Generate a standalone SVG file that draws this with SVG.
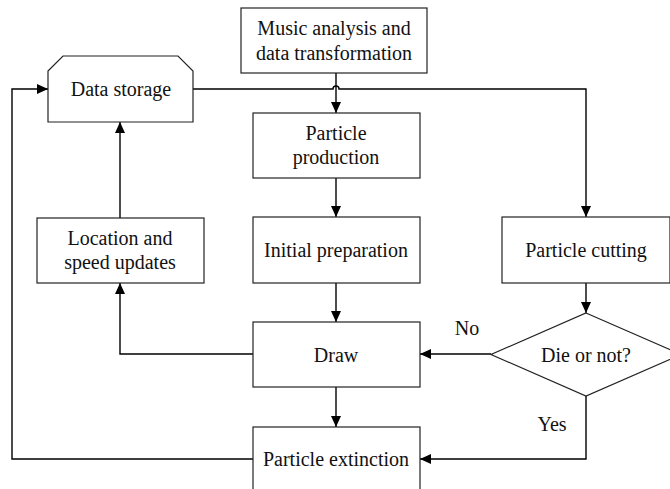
<svg xmlns="http://www.w3.org/2000/svg" width="670" height="489" viewBox="0 0 670 489">
<defs>
<marker id="ah" markerUnits="userSpaceOnUse" markerWidth="12" markerHeight="10" refX="11" refY="5" orient="auto">
<path d="M0,0 L11,5 L0,10 Z" fill="#000"/>
</marker>
<style>
.box{fill:#fff;stroke:#222;stroke-width:1.2}
.t{font-family:"Liberation Serif","Times New Roman",serif;font-size:20px;fill:#111;text-anchor:middle}
.c{fill:none;stroke:#000;stroke-width:1.4}
</style>
</defs>
<rect width="670" height="489" fill="#fff"/>
<g id="connectors">
<path class="c" d="M336,73 V113" marker-end="url(#ah)"/>
<path class="c" d="M193,89 H333 A3,3 0 0 1 339,89 H586 V217" marker-end="url(#ah)"/>
<path class="c" d="M336,178 V217" marker-end="url(#ah)"/>
<path class="c" d="M336,283 V322" marker-end="url(#ah)"/>
<path class="c" d="M336,387 V427" marker-end="url(#ah)"/>
<path class="c" d="M586,283 V313" marker-end="url(#ah)"/>
<path class="c" d="M491,354 H420" marker-end="url(#ah)"/>
<path class="c" d="M586,396 V459 H420" marker-end="url(#ah)"/>
<path class="c" d="M253,354 H120 V283" marker-end="url(#ah)"/>
<path class="c" d="M120,218 V122" marker-end="url(#ah)"/>
<path class="c" d="M253,459 H12 V89 H48" marker-end="url(#ah)"/>
</g>
<g id="music">
<rect class="box" x="241" y="8" width="186" height="65"/>
<text class="t" x="334" y="35">Music analysis and</text>
<text class="t" x="334" y="60">data transformation</text>
</g>
<g id="storage">
<polygon class="box" points="48,71 63,56 178,56 193,71 193,122 48,122"/>
<text class="t" x="121" y="96">Data storage</text>
</g>
<g id="production">
<rect class="box" x="253" y="113" width="167" height="65"/>
<text class="t" x="336" y="140">Particle</text>
<text class="t" x="336" y="164">production</text>
</g>
<g id="preparation">
<rect class="box" x="253" y="217" width="167" height="66"/>
<text class="t" x="336" y="257">Initial preparation</text>
</g>
<g id="location">
<rect class="box" x="37" y="218" width="167" height="65"/>
<text class="t" x="120" y="245">Location and</text>
<text class="t" x="120" y="269">speed updates</text>
</g>
<g id="cutting">
<rect class="box" x="502" y="217" width="168" height="66"/>
<text class="t" x="586" y="257">Particle cutting</text>
</g>
<g id="decision">
<polygon class="box" points="586,313 681,354.5 586,396 491,354.5"/>
<text class="t" x="586" y="362">Die or not?</text>
</g>
<g id="draw">
<rect class="box" x="253" y="322" width="167" height="65"/>
<text class="t" x="336" y="362">Draw</text>
</g>
<g id="extinction">
<rect class="box" x="253" y="427" width="167" height="66"/>
<text class="t" x="336" y="466">Particle extinction</text>
</g>
<g id="labels">
<text class="t" x="467" y="335">No</text>
<text class="t" x="552" y="431">Yes</text>
</g>
</svg>
